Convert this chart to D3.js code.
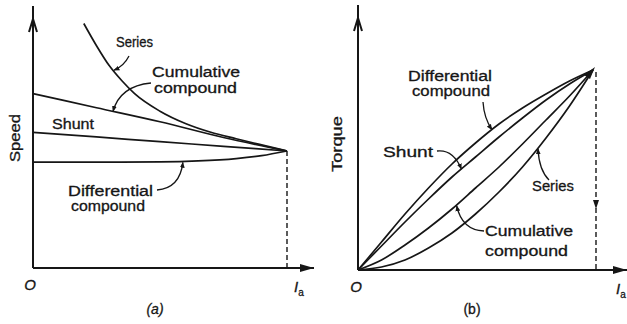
<!DOCTYPE html>
<html>
<head>
<meta charset="utf-8">
<script src="https://cdn.jsdelivr.net/npm/d3@7"></script>
<style>
  body { margin: 0; background: #ffffff; }
  svg { display: block; }
  text { font-family: "Liberation Sans", Arial, sans-serif; fill: #161616; stroke: #161616; stroke-width: 0.3; }
</style>
</head>
<body>
<svg id="chart" width="627" height="324"></svg>
<script>
// ---- (a) Speed against armature current (per-unit, 1 = full-load point) ----
const speedCurrent       = [0, 0.25, 0.5, 0.75, 1];
const cumulativeSpeed    = [1.49, 1.37, 1.25, 1.115, 1.0];
const shuntSpeed         = [1.16, 1.12, 1.08, 1.04, 1.0];
const seriesCurrent      = [0.2, 0.25, 0.3, 0.35, 0.4, 0.5, 0.6, 0.7, 0.8, 0.9, 1.0];
const seriesSpeed        = [2.09, 1.90, 1.73, 1.60, 1.49, 1.34, 1.235, 1.16, 1.105, 1.052, 1.0];
const differentialCurrent = [0, 0.25, 0.5, 0.65, 0.8, 0.9, 1];
const differentialSpeed   = [0.905, 0.905, 0.907, 0.915, 0.935, 0.96, 1.0];

// ---- (b) Torque against armature current ----
const torqueCurrent      = [0, 0.1, 0.2, 0.3, 0.4, 0.5, 0.6, 0.7, 0.8, 0.9, 1];
const differentialTorque = [0, 0.14, 0.28, 0.41, 0.53, 0.635, 0.73, 0.81, 0.88, 0.945, 1];
const shuntTorque        = [0, 0.12, 0.24, 0.355, 0.465, 0.565, 0.665, 0.76, 0.85, 0.93, 1];
const cumulativeTorque   = [0, 0.05, 0.125, 0.21, 0.305, 0.41, 0.515, 0.63, 0.75, 0.87, 1];
const seriesTorque       = [0, 0.015, 0.05, 0.11, 0.185, 0.28, 0.39, 0.515, 0.66, 0.82, 1];

const svg = d3.select("#chart");
const ink = "#161616";

// arrowhead used at the end of the leader lines
svg.append("defs").append("marker")
  .attr("id", "tip").attr("viewBox", "0 0 10 10")
  .attr("refX", 9).attr("refY", 5)
  .attr("markerWidth", 6).attr("markerHeight", 6)
  .attr("markerUnits", "userSpaceOnUse")
  .attr("orient", "auto")
  .append("path").attr("d", "M0,1 L10,5 L0,9 Z").attr("fill", ink);

const zip = (xs, ys) => xs.map((x, i) => [x, ys[i]]);
// point on a data curve at a given current (linear between samples)
function pointAt(xs, ys, x) {
  let i = 0;
  while (i < xs.length - 2 && xs[i + 1] < x) i++;
  const t = (x - xs[i]) / (xs[i + 1] - xs[i]);
  return [x, ys[i] + t * (ys[i + 1] - ys[i])];
}

function drawCurve(g, pts, x, y) {
  g.append("path")
    .attr("d", d3.line().x(d => x(d[0])).y(d => y(d[1])).curve(d3.curveMonotoneX)(pts))
    .attr("fill", "none").attr("stroke", ink).attr("stroke-width", 1.7)
    .attr("stroke-linejoin", "round");
}

function leader(g, start, ctrl, end) {
  g.append("path")
    .attr("d", `M${start[0]},${start[1]} Q${ctrl[0]},${ctrl[1]} ${end[0]},${end[1]}`)
    .attr("fill", "none").attr("stroke", ink).attr("stroke-width", 1.3)
    .attr("marker-end", "url(#tip)");
}

function label(g, txt, x, y, width, size) {
  g.append("text").attr("x", x).attr("y", y)
    .attr("font-size", size || 14)
    .attr("textLength", width).attr("lengthAdjust", "spacingAndGlyphs")
    .text(txt);
}

function axes(g, x0, y0, xEnd, yTop) {
  g.append("line").attr("x1", x0).attr("y1", y0).attr("x2", x0).attr("y2", yTop)
    .attr("stroke", ink).attr("stroke-width", 2);
  g.append("path").attr("d", `M${x0 - 4},${yTop + 26} L${x0},${yTop + 13} L${x0 + 4},${yTop + 26}`)
    .attr("fill", "none").attr("stroke", ink).attr("stroke-width", 2);
  g.append("line").attr("x1", x0).attr("y1", y0).attr("x2", xEnd).attr("y2", y0)
    .attr("stroke", ink).attr("stroke-width", 2);
  g.append("path").attr("d", `M${xEnd - 14},${y0 - 4} L${xEnd},${y0} L${xEnd - 14},${y0 + 4} Z`)
    .attr("fill", ink);
}

function origin(g, x, y) {
  g.append("text").attr("x", x).attr("y", y).attr("font-size", 15)
    .attr("font-style", "italic").attr("text-anchor", "middle").text("O");
}

function currentLabel(g, x, y) {
  const t = g.append("text").attr("x", x).attr("y", y).attr("font-size", 15).attr("font-style", "italic");
  t.append("tspan").text("I");
  t.append("tspan").attr("dy", 4).attr("font-size", 10).attr("font-style", "normal").text("a");
}

// ================= panel (a) =================
const ga = svg.append("g");
const xa = d3.scaleLinear().domain([0, 1]).range([33, 287]);
const ya = d3.scaleLinear().domain([0, 1]).range([268, 151]);

axes(ga, 33, 268, 314, 6);
ga.append("line").attr("x1", xa(1)).attr("x2", xa(1)).attr("y1", ya(1)).attr("y2", 268)
  .attr("stroke", ink).attr("stroke-width", 1.4).attr("stroke-dasharray", "5,3");

drawCurve(ga, zip(seriesCurrent, seriesSpeed), xa, ya);
drawCurve(ga, zip(speedCurrent, cumulativeSpeed), xa, ya);
drawCurve(ga, zip(speedCurrent, shuntSpeed), xa, ya);
drawCurve(ga, zip(differentialCurrent, differentialSpeed), xa, ya);

label(ga, "Series", 116, 47, 37, 14);
label(ga, "Cumulative", 152, 77, 88);
label(ga, "compound", 154, 93, 83);
label(ga, "Shunt", 52, 129, 42, 14);
label(ga, "Differential", 68, 196, 85);
label(ga, "compound", 71, 211, 74);

let p = pointAt(seriesCurrent, seriesSpeed, 0.315);
leader(ga, [129, 56], [124, 66], [xa(p[0]) + 1, ya(p[1])]);
p = pointAt(speedCurrent, cumulativeSpeed, 0.315);
leader(ga, [151, 83], [120, 86], [xa(p[0]), ya(p[1])]);
p = pointAt(differentialCurrent, differentialSpeed, 0.59);
leader(ga, [157, 190], [180, 188], [xa(p[0]), ya(p[1]) + 1]);

ga.append("text").attr("transform", "translate(20,138) rotate(-90)")
  .attr("font-size", 14).attr("text-anchor", "middle")
  .attr("textLength", 48).attr("lengthAdjust", "spacingAndGlyphs").text("Speed");
origin(ga, 30, 290);
currentLabel(ga, 294, 292);
ga.append("text").attr("x", 155).attr("y", 314).attr("font-size", 14)
  .attr("font-style", "italic").attr("text-anchor", "middle").text("(a)");

// ================= panel (b) =================
const gb = svg.append("g");
const xb = d3.scaleLinear().domain([0, 1]).range([358, 593]);
const yb = d3.scaleLinear().domain([0, 1]).range([270, 70]);

axes(gb, 358, 270, 627, 5);
gb.append("line").attr("x1", 596).attr("x2", 596).attr("y1", yb(1) + 2).attr("y2", 270)
  .attr("stroke", ink).attr("stroke-width", 1.4).attr("stroke-dasharray", "5,3");
gb.append("path").attr("d", "M593,200 L596,209 L599,200 Z").attr("fill", ink);

drawCurve(gb, zip(torqueCurrent, differentialTorque), xb, yb);
drawCurve(gb, zip(torqueCurrent, shuntTorque), xb, yb);
drawCurve(gb, zip(torqueCurrent, cumulativeTorque), xb, yb);
drawCurve(gb, zip(torqueCurrent, seriesTorque), xb, yb);
// converging tip
gb.append("path").attr("d", `M${xb(1) - 9},${yb(1) + 5} L${xb(1) + 2},${yb(1) - 3} L${xb(1) - 3},${yb(1) + 9} Z`)
  .attr("fill", ink);

label(gb, "Differential", 408, 81, 84);
label(gb, "compound", 412, 96, 78);
label(gb, "Shunt", 383, 157, 50);
label(gb, "Series", 532, 191, 42, 15);
label(gb, "Cumulative", 485, 236, 88);
label(gb, "compound", 485, 256, 83);

p = pointAt(torqueCurrent, differentialTorque, 0.57);
leader(gb, [483, 102], [484, 118], [xb(p[0]), yb(p[1])]);
p = pointAt(torqueCurrent, shuntTorque, 0.44);
leader(gb, [437, 151], [453, 149], [xb(p[0]), yb(p[1])]);
p = pointAt(torqueCurrent, seriesTorque, 0.766);
leader(gb, [549, 180], [539, 170], [xb(p[0]), yb(p[1]) + 1]);
p = pointAt(torqueCurrent, cumulativeTorque, 0.42);
leader(gb, [484, 231], [462, 230], [xb(p[0]), yb(p[1]) + 1]);

gb.append("text").attr("transform", "translate(342,144) rotate(-90)")
  .attr("font-size", 14).attr("text-anchor", "middle")
  .attr("textLength", 56).attr("lengthAdjust", "spacingAndGlyphs").text("Torque");
origin(gb, 356, 292);
currentLabel(gb, 616, 294);
gb.append("text").attr("x", 472).attr("y", 314).attr("font-size", 14)
  .attr("text-anchor", "middle").text("(b)");
</script>
</body>
</html>
